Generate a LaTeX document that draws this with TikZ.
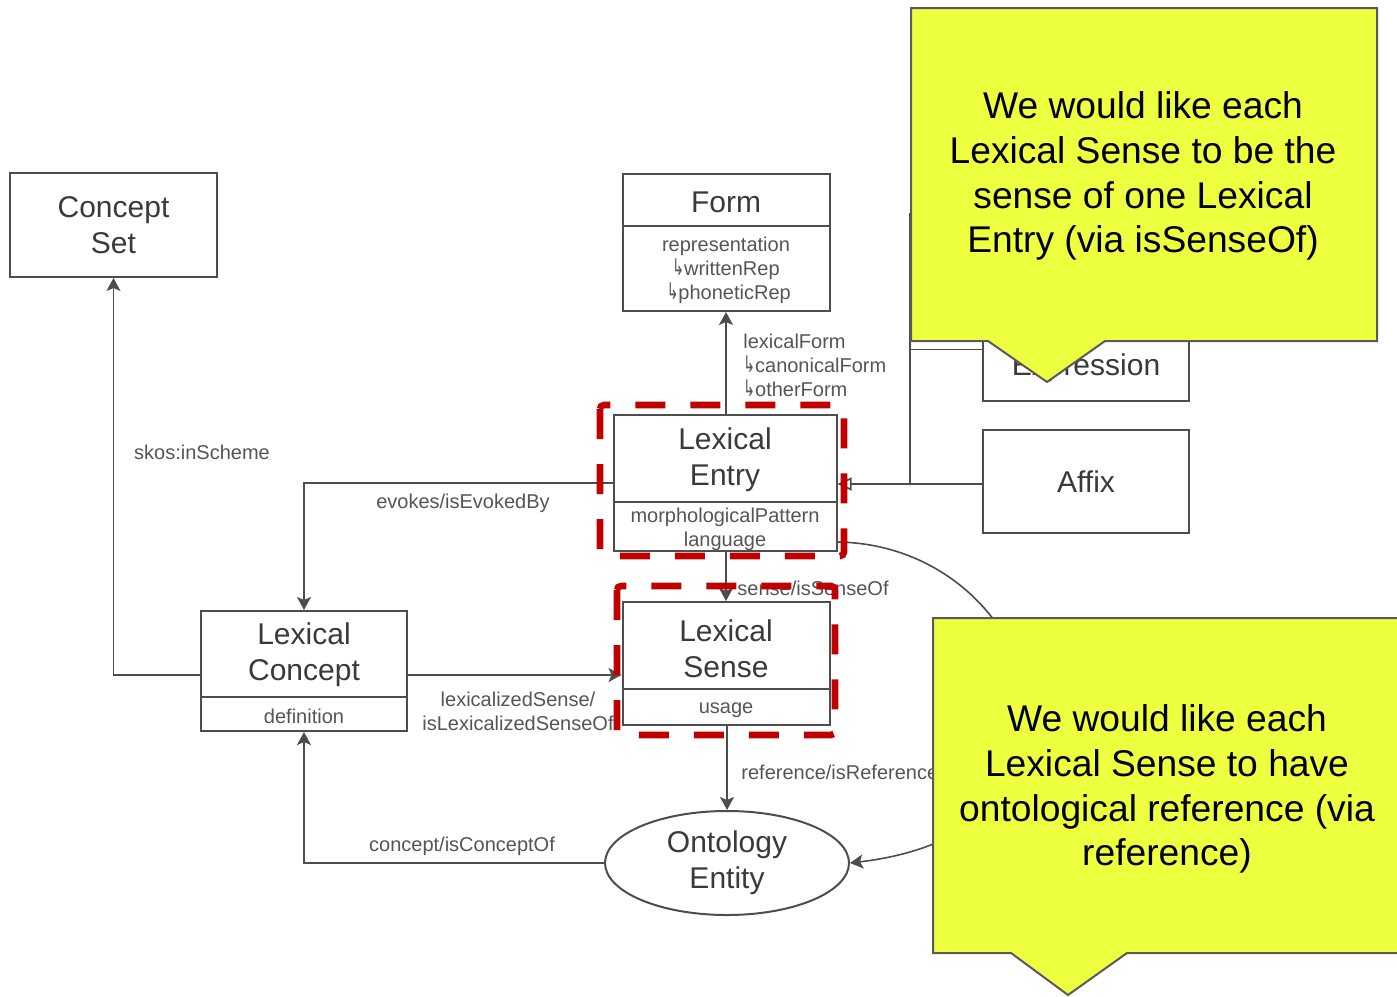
\documentclass[tikz,border=0pt]{standalone}
\usepackage{fontspec}
\setmainfont{Liberation Sans}
\newfontfamily\dejavu{DejaVu Sans}
\usepackage{graphicx}
\usetikzlibrary{arrows.meta,shapes.geometric}
\definecolor{boxc}{HTML}{4D4D4D}
\definecolor{txtc}{HTML}{3A3A3A}
\definecolor{lblc}{HTML}{555555}
\definecolor{redd}{HTML}{C00000}
\definecolor{yell}{HTML}{EEFF40}
\definecolor{calb}{HTML}{5A5A5A}
\newcommand\hookarr{{\dejavu\scalebox{0.7}[1.15]{↳}}}
\begin{document}
\begin{tikzpicture}[x=0.5pt,y=-0.5pt,
 cls/.style={draw=boxc,line width=1pt,inner sep=0pt,fill=white,text=txtc,font=\fontsize{15}{18}\selectfont,align=center},
 ttl/.style={text=txtc,font=\fontsize{15}{18}\selectfont,align=center,inner sep=0pt},
 attr/.style={text=lblc,font=\fontsize{10}{12}\selectfont,align=center,inner sep=0pt},
 lbl/.style={text=lblc,font=\fontsize{10}{12}\selectfont,inner sep=0pt},
 divline/.style={draw=boxc,line width=1pt},
 conn/.style={draw=boxc,line width=0.8pt,-{Stealth[length=6.5pt,width=7pt,inset=1.5pt]}},
 genl/.style={draw=boxc,line width=0.8pt,-{Triangle[open,length=7pt,width=6.5pt,fill=white]}},
 plain/.style={draw=boxc,line width=0.8pt},
 redbox/.style={draw=redd,line width=3.3pt,dash pattern=on 15pt off 12.5pt,rounded corners=2pt},
 callout/.style={draw=calb,line width=1pt,fill=yell},
 ctext/.style={font=\fontsize{18.6}{22.4}\selectfont,align=center,text=black,inner sep=0pt}
]
\useasboundingbox (0,0) rectangle (1397,996);
\fill[white] (0,0) rectangle (1397,996);

% Concept Set
\node[cls,minimum width=103.5pt,minimum height=52pt] (cs) at (113.5,225) {Concept\\Set};

% Form
\node[cls,minimum width=103.5pt,minimum height=68.5pt] (form) at (726,242.5) {};
\draw[divline] (form.west |- 0,226) -- (form.east |- 0,226);
\node[ttl] (formt) at (726,202) {Form};
\node[attr] (forma) at (726,270) {representation\\\hookarr writtenRep\\\ \hookarr phoneticRep};

% Lexical Entry
\node[cls,minimum width=111.5pt,minimum height=68pt] (le) at (725,483) {};
\draw[divline] (le.west |- 0,502) -- (le.east |- 0,502);
\node[ttl] (let) at (725,460) {Lexical\\Entry};
\node[attr] (lea) at (725,529) {morphologicalPattern\\language};

% Lexical Sense
\node[cls,minimum width=103.5pt,minimum height=61.5pt] (ls) at (726,663.5) {};
\draw[divline] (ls.west |- 0,689) -- (ls.east |- 0,689);
\node[ttl] (lst) at (726,649) {Lexical\\Sense};
\node[attr] (lsa) at (726,710) {usage};

% Lexical Concept
\node[cls,minimum width=103pt,minimum height=60pt] (lc) at (304,671) {};
\draw[divline] (lc.west |- 0,697) -- (lc.east |- 0,697);
\node[ttl] (lct) at (304,655) {Lexical\\Concept};
\node[attr] (lca) at (304,716) {definition};

% Ontology Entity
\node[cls,ellipse,minimum width=122pt,minimum height=52pt] (oe) at (727,863) {Ontology\\Entity};

% Multiword Expression and Affix
\node[cls,minimum width=103pt,minimum height=51.5pt] (mwe) at (1086,349.5) {Multiword\\Expression};
\node[cls,minimum width=103pt,minimum height=51.5pt] (affix) at (1086,481.5) {Affix};

% connectors
\coordinate (gj) at (910,484);
\coordinate (gtop) at (910,213);
\draw[genl] (affix.west |- gj) -- (le.east |- gj);
\draw[plain] (gtop) -- (gj);
\draw[plain] (gtop |- mwe.west) -- (mwe.west);

\draw[conn] (le.north -| form.south) -- (form.south);
\draw[conn] (le.south -| ls.north) -- (ls.north);
\draw[conn] (ls.south -| oe.north) -- (oe.north);
\draw[conn] (le.west) -| (lc.north);
\draw[conn] (lc.east |- 0,675) -- (ls.west |- 0,675);
\draw[conn] (lc.west |- 0,675) -| (cs.south);
\draw[conn] (oe.west) -| (lc.south);
\draw[conn] ([yshift=5pt]le.south east) .. controls (1040,545) and (1130,830) .. (oe.east);

% labels
\node[lbl,anchor=west,align=left] (lfl) at (743,365) {lexicalForm\\\hookarr canonicalForm\\\hookarr otherForm};
\node[lbl,anchor=west] (sl) at (737,588) {sense/isSenseOf};
\node[lbl,anchor=west] (rl) at (741,772) {reference/isReferenceOf};
\node[lbl] (el) at (463,503) {evokes/isEvokedBy};
\node[lbl,align=center] (lxl) at (518,711) {lexicalizedSense/\\isLexicalizedSenseOf};
\node[lbl] (skl) at (202,452) {skos:inScheme};
\node[lbl] (col) at (462,846) {concept/isConceptOf};

% red highlight boxes
\draw[redbox] (600,405) rectangle (844,556);
\draw[redbox] (617,586) rectangle (835,735);

% callouts
\draw[callout] (911,8) -- (1377,8) -- (1377,341) -- (1105,341) -- (1047,382) -- (988,341) -- (911,341) -- cycle;
\node[ctext] (c1) at (1143,176) {We would like each\\Lexical Sense to be the\\sense of one Lexical\\Entry (via isSenseOf)};
\draw[callout] (933,618) -- (1402,618) -- (1402,953) -- (1127,953) -- (1068,995) -- (1011,953) -- (933,953) -- cycle;
\node[ctext] (c2) at (1167,789) {We would like each\\Lexical Sense to have\\ontological reference (via\\reference)};
\end{tikzpicture}
\end{document}
